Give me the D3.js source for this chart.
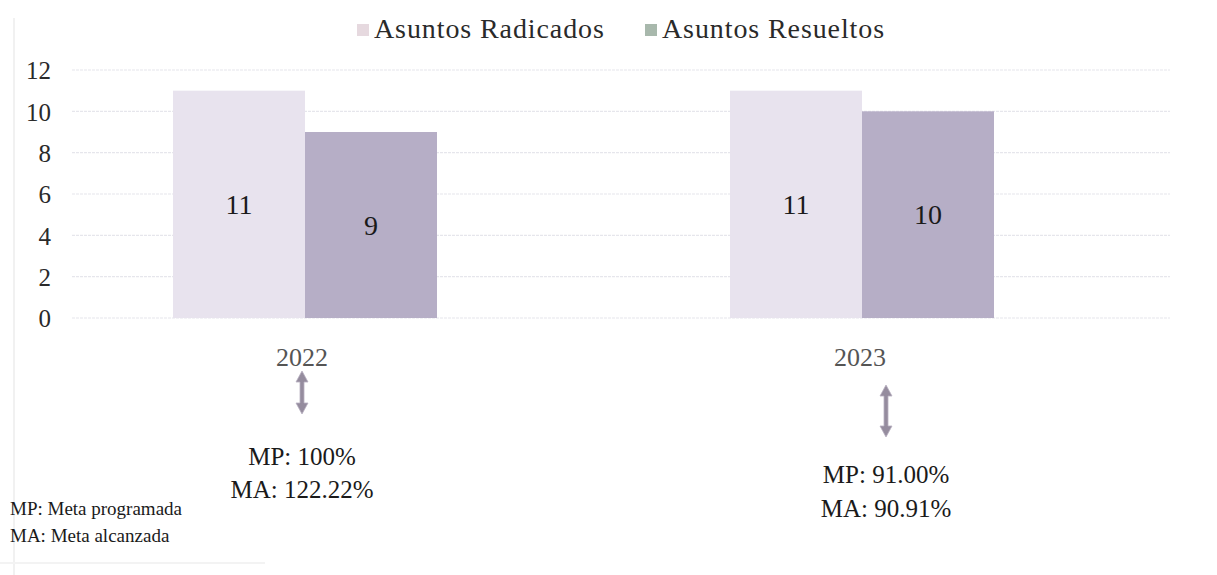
<!DOCTYPE html>
<html>
<head>
<meta charset="utf-8">
<script src="https://cdn.jsdelivr.net/npm/d3@7"></script>
<style>
  body { margin: 0; background: #fff; }
  svg { display: block; }
</style>
</head>
<body>
<div id="chart"></div>
<script>
// data
var years      = ["2022", "2023"];
var seriesName = ["Asuntos Radicados", "Asuntos Resueltos"];
var radicados  = [11, 11];
var resueltos  = [9, 10];
var yTicks     = [0, 2, 4, 6, 8, 10, 12];
var mpLabels   = ["MP: 100%", "MP: 91.00%"];
var maLabels   = ["MA: 122.22%", "MA: 90.91%"];
var footnotes  = ["MP: Meta programada", "MA: Meta alcanzada"];

var W = 1217, H = 575;
var serif = "'Liberation Serif', 'Times New Roman', serif";
var colors = ["#e8e3ee", "#b6aec6"];
var swatch = ["#e6d9df", "#a8b8ac"];

// annotation layout per year (offset from category centre, y of arrow and texts)
var annot = [
  {dx: -3, arrowTop: 371, arrowBot: 414, mpY: 465, maY: 498},
  {dx: 24, arrowTop: 385, arrowBot: 437, mpY: 483, maY: 517}
];

var svg = d3.select("#chart").append("svg")
    .attr("width", W)
    .attr("height", H);

var x = d3.scaleBand().domain(years).range([26.5, 1140.5]).padding(0);
var xSub = d3.scaleBand().domain(seriesName)
    .range([146.5, x.bandwidth() - 146.5]).padding(0);
var y = d3.scaleLinear().domain([0, 12]).range([318, 70]);

// faint scan edges
svg.append("line").attr("x1", 14).attr("x2", 14).attr("y1", 18).attr("y2", H)
    .attr("stroke", "#f1f1f1").attr("stroke-width", 2);
svg.append("line").attr("x1", 0).attr("x2", 265).attr("y1", 563).attr("y2", 563)
    .attr("stroke", "#f3f3f3").attr("stroke-width", 2);

// gridlines
svg.append("g").selectAll("line")
    .data(yTicks)
    .enter().append("line")
    .attr("x1", 72).attr("x2", 1170)
    .attr("y1", function (d) { return y(d); })
    .attr("y2", function (d) { return y(d); })
    .attr("stroke", "#e6e6ec")
    .attr("stroke-width", 1.2)
    .attr("stroke-dasharray", "3,1");

// y axis (labels only)
var yAxis = d3.axisLeft(y).tickValues(yTicks).tickSize(0).tickPadding(0);
var gy = svg.append("g").attr("transform", "translate(51,0)").call(yAxis);
gy.select(".domain").remove();
gy.selectAll("text")
    .attr("font-family", serif)
    .attr("font-size", 25)
    .attr("fill", "#2a2a2a")
    .attr("dy", "0.35em");

// bars
var groups = svg.append("g").selectAll("g")
    .data(years)
    .enter().append("g")
    .attr("transform", function (d) { return "translate(" + x(d) + ",0)"; });

groups.each(function (yr, i) {
  var vals = [radicados[i], resueltos[i]];
  var g = d3.select(this);
  g.selectAll("rect")
    .data(vals)
    .enter().append("rect")
    .attr("x", function (d, j) { return xSub(seriesName[j]); })
    .attr("y", function (d) { return y(d); })
    .attr("width", xSub.bandwidth())
    .attr("height", function (d) { return y(0) - y(d); })
    .attr("fill", function (d, j) { return colors[j]; });

  g.selectAll("text.val")
    .data(vals)
    .enter().append("text")
    .attr("class", "val")
    .attr("x", function (d, j) { return xSub(seriesName[j]) + xSub.bandwidth() / 2; })
    .attr("y", function (d) { return (y(d) + y(0)) / 2; })
    .attr("dy", "0.35em")
    .attr("text-anchor", "middle")
    .attr("font-family", serif)
    .attr("font-size", 28)
    .attr("fill", "#1a1a1a")
    .text(function (d) { return d; });
});

// category labels
var xAxis = d3.axisBottom(x).tickSize(0).tickPadding(0);
var gx = svg.append("g").attr("transform", "translate(0,347)").call(xAxis);
gx.select(".domain").remove();
gx.selectAll("text")
    .attr("font-family", serif)
    .attr("font-size", 26)
    .attr("fill", "#555")
    .attr("dy", "0.72em")
    .attr("dx", function (d, i) { return i === 0 ? -3 : -2; });

// double arrows + MP/MA text
years.forEach(function (yr, i) {
  var a = annot[i];
  var cx = x(yr) + x.bandwidth() / 2 + a.dx;
  var t = a.arrowTop, b = a.arrowBot, hw = 6, sw = 2, hh = 11;
  var path = [
    [cx, t], [cx + hw, t + hh], [cx + sw, t + hh], [cx + sw, b - hh],
    [cx + hw, b - hh], [cx, b], [cx - hw, b - hh], [cx - sw, b - hh],
    [cx - sw, t + hh], [cx - hw, t + hh]
  ];
  svg.append("path")
    .attr("d", d3.line()(path) + "Z")
    .attr("fill", "#958c9e")
    .attr("stroke", "#b8b0c0")
    .attr("stroke-width", 0.8);

  svg.append("text")
    .attr("x", cx).attr("y", a.mpY)
    .attr("text-anchor", "middle")
    .attr("font-family", serif).attr("font-size", 25)
    .attr("fill", "#1a1a1a")
    .text(mpLabels[i]);
  svg.append("text")
    .attr("x", cx).attr("y", a.maY)
    .attr("text-anchor", "middle")
    .attr("font-family", serif).attr("font-size", 25)
    .attr("fill", "#1a1a1a")
    .text(maLabels[i]);
});

// legend
var legX = [357, 645];
var leg = svg.append("g").selectAll("g")
    .data(seriesName)
    .enter().append("g")
    .attr("transform", function (d, i) { return "translate(" + legX[i] + ",0)"; });
leg.append("rect")
    .attr("x", 0).attr("y", 24)
    .attr("width", 12).attr("height", 12)
    .attr("fill", function (d, i) { return swatch[i]; });
leg.append("text")
    .attr("x", 17).attr("y", 38)
    .attr("font-family", serif)
    .attr("font-size", 28)
    .attr("letter-spacing", 0.9)
    .attr("fill", "#2a2a2a")
    .text(function (d) { return d; });

// footnotes
svg.append("g").selectAll("text")
    .data(footnotes)
    .enter().append("text")
    .attr("x", 10)
    .attr("y", function (d, i) { return 515 + i * 27; })
    .attr("font-family", serif)
    .attr("font-size", 19)
    .attr("fill", "#1a1a1a")
    .text(function (d) { return d; });
</script>
</body>
</html>
